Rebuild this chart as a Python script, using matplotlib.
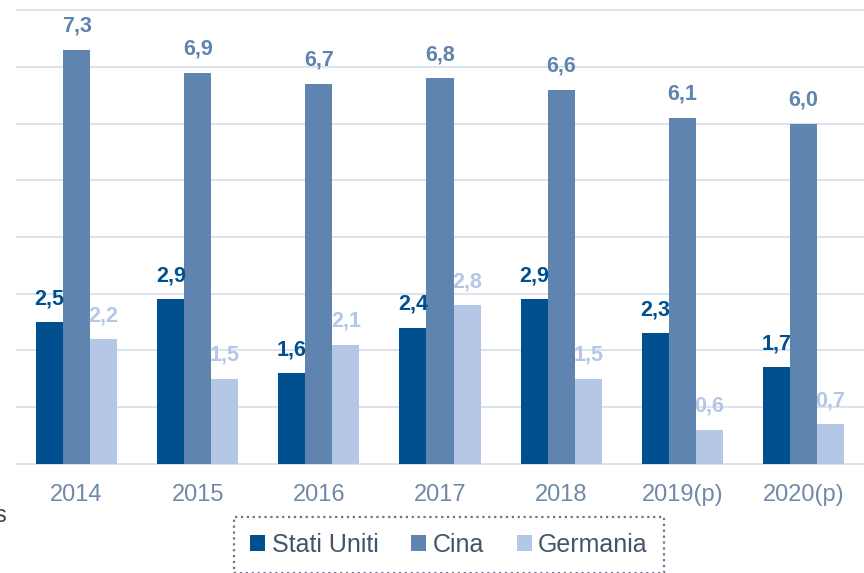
import matplotlib
matplotlib.use('Agg')
import matplotlib.pyplot as plt
import numpy as np

plt.rcParams['font.family'] = ['Liberation Sans', 'DejaVu Sans']

years = ['2014', '2015', '2016', '2017', '2018', '2019(p)', '2020(p)']
stati_uniti = [2.5, 2.9, 1.6, 2.4, 2.9, 2.3, 1.7]
cina = [7.3, 6.9, 6.7, 6.8, 6.6, 6.1, 6.0]
germania = [2.2, 1.5, 2.1, 2.8, 1.5, 0.6, 0.7]
series_names = ['Stati Uniti', 'Cina', 'Germania']

US_COLOR = '#00508f'
CN_COLOR = '#5f84b0'
DE_COLOR = '#b4c7e7'
GRID_COLOR = '#dde3ee'
TICK_COLOR = '#7189a8'
LEGEND_TEXT = '#44546a'

fig = plt.figure(figsize=(8.64, 5.73), dpi=100)
ax = fig.add_axes([16 / 864, 108 / 573, 848 / 864, 456 / 573])

x = np.arange(len(years))
w = 0.223
series = [stati_uniti, cina, germania]
colors = [US_COLOR, CN_COLOR, DE_COLOR]
offsets = [-w, 0, w]

for vals, col, off, name in zip(series, colors, offsets, series_names):
    bars = ax.bar(x + off, vals, width=w, color=col, label=name, zorder=3)
    for b, v in zip(bars, vals):
        ax.annotate(f'{v:.1f}'.replace('.', ','),
                    (b.get_x() + b.get_width() / 2, b.get_height()),
                    xytext=(0, 13), textcoords='offset points',
                    ha='center', va='baseline', fontsize=15.5,
                    fontweight='bold', color=col, zorder=4)

ax.set_xlim(-0.5, 6.5)
ax.set_ylim(-0.02, 8.02)
ax.set_yticks(range(0, 9))
ax.yaxis.grid(True, color=GRID_COLOR, linewidth=1.4, zorder=0)
ax.set_axisbelow(True)
ax.tick_params(axis='y', left=False, labelleft=False)
ax.set_xticks(x)
ax.set_xticklabels(years)
ax.tick_params(axis='x', bottom=False, labelsize=17, labelcolor=TICK_COLOR, pad=10)
for sp in ax.spines.values():
    sp.set_visible(False)

leg = fig.legend(loc='center', bbox_to_anchor=(449 / 864, 28.5 / 573), ncol=3,
                 fontsize=18, frameon=True, fancybox=False,
                 handlelength=0.6, handleheight=0.6, handletextpad=0.25,
                 columnspacing=1.32, borderpad=0.64)
for t in leg.get_texts():
    t.set_color(LEGEND_TEXT)
frame = leg.get_frame()
frame.set_edgecolor(LEGEND_TEXT)
frame.set_linestyle(':')
frame.set_linewidth(1.6)

fig.text(-0.006, 57 / 573, 's', fontsize=17, color='#404040', va='center', ha='left')

fig.savefig('out.png', dpi=100)
